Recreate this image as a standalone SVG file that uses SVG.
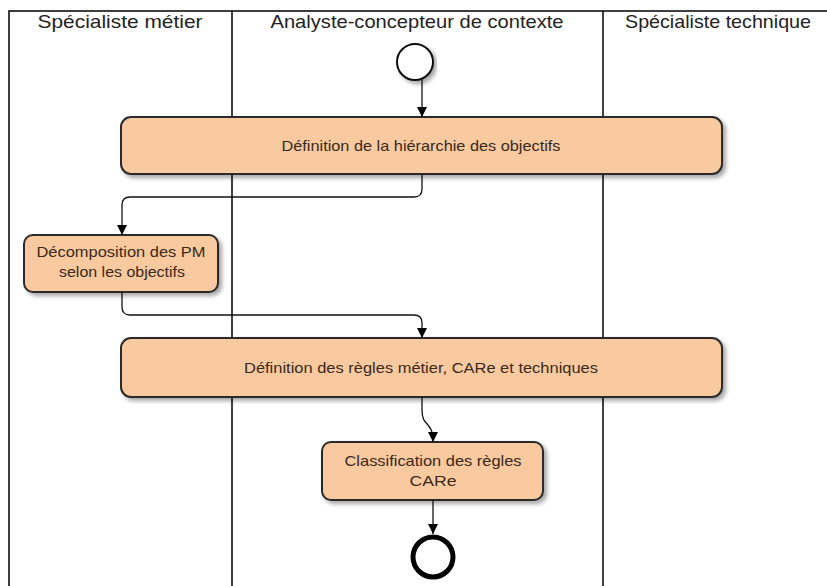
<svg xmlns="http://www.w3.org/2000/svg" width="827" height="586" viewBox="0 0 827 586">
<defs>
<marker id="arr" viewBox="0 0 10 10" refX="10" refY="5" markerWidth="10" markerHeight="10" markerUnits="userSpaceOnUse" orient="auto">
<path d="M0,0 L10,5 L0,10 Z" fill="#000"/>
</marker>
<filter id="sh" x="-5%" y="-20%" width="115%" height="150%">
<feGaussianBlur in="SourceAlpha" stdDeviation="2"/>
<feOffset dx="3" dy="3" result="b"/>
<feComponentTransfer><feFuncA type="linear" slope="0.35"/></feComponentTransfer>
<feMerge><feMergeNode/><feMergeNode in="SourceGraphic"/></feMerge>
</filter>
</defs>
<style>
.lane{stroke:#000;stroke-width:1.5;fill:none}
.hdr{font-family:"Liberation Sans",Arial,sans-serif;font-size:19px;fill:#222;text-anchor:middle}
.box{fill:#F9C9A0;stroke:#2a2a2a;stroke-width:2;filter:url(#sh)}
.lbl{font-family:"Liberation Sans",Arial,sans-serif;font-size:15px;fill:#3a2a1a;text-anchor:middle}
.con{stroke:#111;stroke-width:1.3;fill:none;marker-end:url(#arr)}
</style>
<rect width="827" height="586" fill="#fff"/>
<g id="lanes">
<path class="lane" d="M9,586 V11 H827"/>
<path class="lane" d="M232,11 V586"/>
<path class="lane" d="M603,11 V586"/>
<text class="hdr" x="120" y="28" textLength="165" lengthAdjust="spacingAndGlyphs">Spécialiste métier</text>
<text class="hdr" x="417" y="28" textLength="293" lengthAdjust="spacingAndGlyphs">Analyste-concepteur de contexte</text>
<text class="hdr" x="718" y="28" textLength="186" lengthAdjust="spacingAndGlyphs">Spécialiste technique</text>
</g>
<g id="start">
<circle cx="415" cy="62" r="18" fill="#fff" stroke="#111" stroke-width="2" filter="url(#sh)"/>
</g>
<g id="n1">
<rect class="box" x="121" y="117" width="601" height="57" rx="10"/>
<text class="lbl" x="421" y="151" textLength="279" lengthAdjust="spacingAndGlyphs">Définition de la hiérarchie des objectifs</text>
</g>
<g id="n2">
<rect class="box" x="24" y="235" width="194" height="57" rx="9"/>
<text class="lbl" x="121" y="257" textLength="169" lengthAdjust="spacingAndGlyphs">Décomposition des PM</text>
<text class="lbl" x="122" y="277" textLength="126" lengthAdjust="spacingAndGlyphs">selon les objectifs</text>
</g>
<g id="n3">
<rect class="box" x="121" y="338" width="601" height="59" rx="10"/>
<text class="lbl" x="421" y="373" textLength="354" lengthAdjust="spacingAndGlyphs">Définition des règles métier, CARe et techniques</text>
</g>
<g id="n4">
<rect class="box" x="322" y="442" width="221" height="58" rx="9"/>
<text class="lbl" x="433" y="466" textLength="177" lengthAdjust="spacingAndGlyphs">Classification des règles</text>
<text class="lbl" x="433" y="486" textLength="47" lengthAdjust="spacingAndGlyphs">CARe</text>
</g>
<g id="end">
<circle cx="433" cy="557" r="20" fill="#fff" stroke="#000" stroke-width="5"/>
</g>
<g id="connectors">
<path class="con" d="M422,80 V117"/>
<path class="con" d="M422,174 V189 Q422,197 414,197 H130 Q122,197 122,205 V235"/>
<path class="con" d="M122,292 V307 Q122,315 130,315 H414 Q422,315 422,323 V338"/>
<path class="con" d="M422,397 V410 C422,428 433,420 433,442"/>
<path class="con" d="M433,500 V534"/>
</g>
</svg>
